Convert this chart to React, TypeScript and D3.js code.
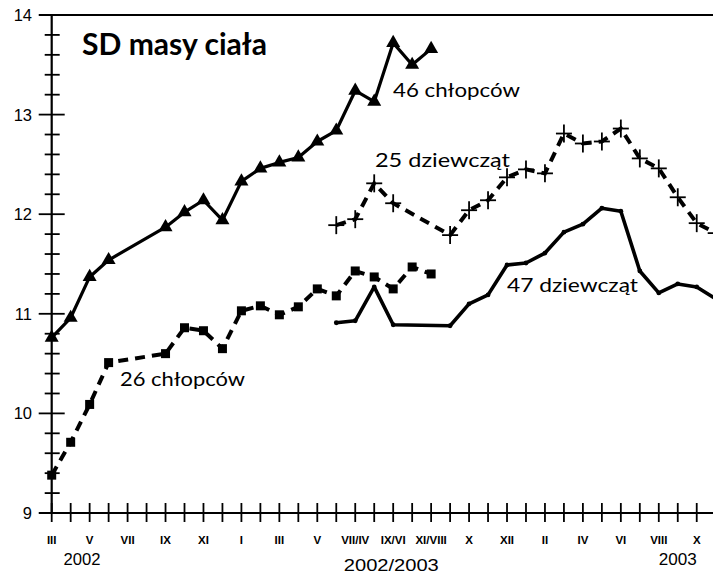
import React from "react";
import * as d3 from "d3";

const W = 713;
const H = 573;

// x = month index on the shared time axis (0 = III 2002)
const boys46Months = [0, 1, 2, 3, 6, 7, 8, 9, 10, 11, 12, 13, 14, 15, 16, 17, 18, 19, 20];
const boys46Sd = [10.76, 10.96, 11.37, 11.54, 11.87, 12.02, 12.14, 11.94, 12.33, 12.46, 12.52, 12.57, 12.73, 12.84, 13.24, 13.13, 13.72, 13.5, 13.66];

const boys26Months = [0, 1, 2, 3, 6, 7, 8, 9, 10, 11, 12, 13, 14, 15, 16, 17, 18, 19, 20];
const boys26Sd = [9.38, 9.71, 10.09, 10.51, 10.6, 10.86, 10.83, 10.65, 11.03, 11.08, 10.99, 11.07, 11.25, 11.18, 11.43, 11.37, 11.25, 11.47, 11.4];

const girls25Months = [15, 16, 17, 18, 21, 22, 23, 24, 25, 26, 27, 28, 29, 30, 31, 32, 33, 34, 35];
const girls25Sd = [11.89, 11.95, 12.31, 12.11, 11.79, 12.04, 12.14, 12.37, 12.45, 12.41, 12.81, 12.71, 12.73, 12.86, 12.56, 12.46, 12.17, 11.91, 11.81];

const girls47Months = [15, 16, 17, 18, 21, 22, 23, 24, 25, 26, 27, 28, 29, 30, 31, 32, 33, 34, 35];
const girls47Sd = [10.91, 10.93, 11.27, 10.89, 10.88, 11.1, 11.19, 11.49, 11.51, 11.61, 11.82, 11.9, 12.06, 12.03, 11.43, 11.21, 11.3, 11.27, 11.15];

const monthTickLabels = ["III", "V", "VII", "IX", "XI", "I", "III", "V", "VII/IV", "IX/VI", "XI/VIII", "X", "XII", "II", "IV", "VI", "VIII", "X"];
const yearLabels = ["2002", "2002/2003", "2003"];
const yearLabelMonths = [1.6, 17.9, 33.0];
const yearLabelWidths = [37, 95, 38];
const yTickValues = [9, 10, 11, 12, 13, 14];
const seriesNames = ["46 chłopców", "26 chłopców", "25 dziewcząt", "47 dziewcząt"];

const x = d3.scaleLinear().domain([0, 35]).range([51.7, 715.7]);
const y = d3.scaleLinear().domain([9, 14]).range([513, 15]);

function pts(months: number[], vals: number[]): [number, number][] {
  return months.map((m, i) => [x(m), y(vals[i])]);
}

const line = d3.line<[number, number]>();

export default function App() {
  const b46 = pts(boys46Months, boys46Sd);
  const b26 = pts(boys26Months, boys26Sd);
  const g25 = pts(girls25Months, girls25Sd);
  const g47 = pts(girls47Months, girls47Sd);

  const minorTicks = d3.range(9, 14.0001, 0.2).filter((v) => Math.abs(v - Math.round(v)) > 0.01);
  const monthTicks = d3.range(0, 35);
  const axisX = x(0);
  const axisY = y(9);
  const tri = d3.symbol().type(d3.symbolTriangle).size(85)();

  return (
    <svg
      width={W}
      height={H}
      style={{ position: "absolute", left: 0, top: 0, background: "#fff" }}
      fontFamily="'Liberation Sans', Arial, sans-serif"
    >
      <defs>
        <clipPath id="plot">
          <rect x={0} y={0} width={W} height={H} />
        </clipPath>
      </defs>

      {/* top frame line */}
      <line x1={39} x2={W} y1={y(14)} y2={y(14)} stroke="#000" strokeWidth={2} />
      {/* y axis */}
      <line x1={axisX} x2={axisX} y1={y(14)} y2={axisY + 1} stroke="#000" strokeWidth={2.2} />
      {yTickValues.map((v) => (
        <g key={"y" + v}>
          <line x1={axisX - 13} x2={axisX + 13} y1={y(v)} y2={y(v)} stroke="#000" strokeWidth={1.8} />
          <text x={32} y={y(v)} dy="0.36em" textAnchor="end" fontSize={16.5}>
            {v}
          </text>
        </g>
      ))}
      {minorTicks.map((v) => (
        <line key={"m" + v} x1={axisX - 7} x2={axisX + 8} y1={y(v)} y2={y(v)} stroke="#000" strokeWidth={1.8} />
      ))}

      {/* x axis */}
      <line x1={39} x2={W} y1={axisY} y2={axisY} stroke="#000" strokeWidth={2} />
      {monthTicks.map((m) => (
        <line key={"xt" + m} x1={x(m)} x2={x(m)} y1={axisY - 10} y2={axisY + 9} stroke="#000" strokeWidth={1.8} />
      ))}
      {monthTickLabels.map((l, i) => (
        <text key={"xl" + i} x={x(i * 2)} y={544} textAnchor="middle" fontSize={11.5} fontWeight="bold">
          {l}
        </text>
      ))}
      {yearLabels.map((l, i) => (
        <text
          key={"yr" + i}
          x={x(yearLabelMonths[i]) - yearLabelWidths[i] / 2}
          y={i === 1 ? 571 : 565}
          fontSize={16}
          textLength={yearLabelWidths[i]}
          lengthAdjust="spacingAndGlyphs"
        >
          {l}
        </text>
      ))}

      <text x={82} y={55} fontFamily="Lato, 'Open Sans', sans-serif" fontWeight="bold" fontSize={30} textLength={185} lengthAdjust="spacingAndGlyphs">
        SD masy ciała
      </text>

      <g clipPath="url(#plot)">
        {/* 47 dziewcząt */}
        <path d={line(g47) || ""} fill="none" stroke="#000" strokeWidth={3.6} strokeLinejoin="round" />
        {g47.map((p, i) => (
          <circle key={"c47" + i} cx={p[0]} cy={p[1]} r={2.4} fill="#000" />
        ))}

        {/* 25 dziewcząt */}
        <path d={line(g25) || ""} fill="none" stroke="#000" strokeWidth={4} strokeDasharray="10,7" />
        {g25.map((p, i) => (
          <g key={"p25" + i} stroke="#000" strokeWidth={1.8}>
            <line x1={p[0] - 8} x2={p[0] + 8} y1={p[1]} y2={p[1]} />
            <line x1={p[0]} x2={p[0]} y1={p[1] - 9} y2={p[1] + 9} />
          </g>
        ))}

        {/* 26 chłopców */}
        <path d={line(b26) || ""} fill="none" stroke="#000" strokeWidth={4} strokeDasharray="10,7" />
        {b26.map((p, i) => (
          <rect key={"s26" + i} x={p[0] - 4.5} y={p[1] - 4.5} width={9} height={9} fill="#000" />
        ))}

        {/* 46 chłopców */}
        <path d={line(b46) || ""} fill="none" stroke="#000" strokeWidth={3.2} strokeLinejoin="round" />
        {b46.map((p, i) => (
          <path key={"t46" + i} d={tri || ""} transform={`translate(${p[0]},${p[1]})`} fill="#000" />
        ))}
      </g>

      {/* series labels */}
      <g fontFamily="Lato, 'Open Sans', sans-serif" fontSize={18.5}>
        <text x={393} y={96.5} textLength={127} lengthAdjust="spacingAndGlyphs">{seriesNames[0]}</text>
        <text x={120} y={385.5} textLength={125} lengthAdjust="spacingAndGlyphs">{seriesNames[1]}</text>
        <text x={375} y={166.5} textLength={135} lengthAdjust="spacingAndGlyphs">{seriesNames[2]}</text>
        <text x={507} y={291.5} textLength={131} lengthAdjust="spacingAndGlyphs">{seriesNames[3]}</text>
      </g>
    </svg>
  );
}
